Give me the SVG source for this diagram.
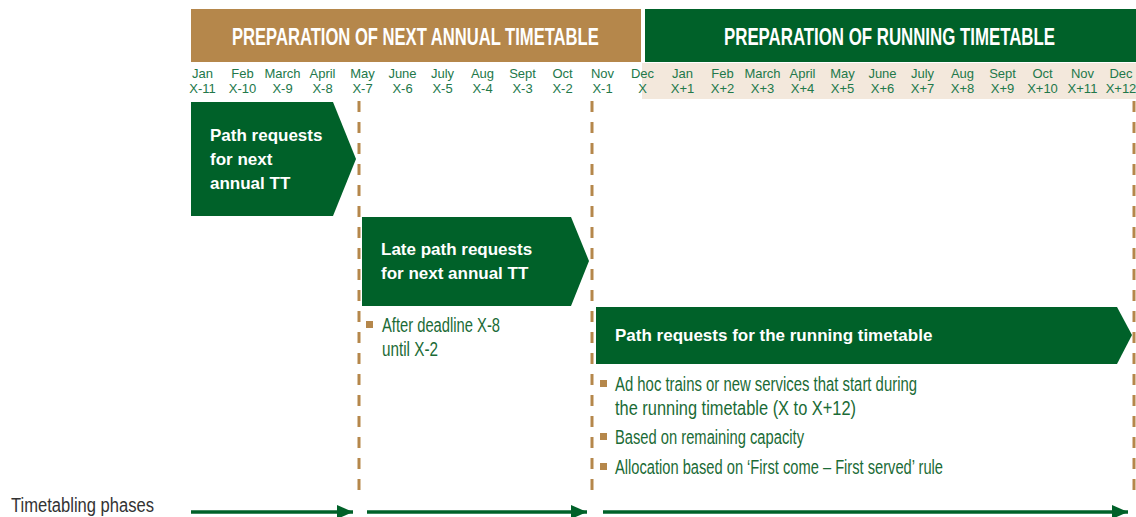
<svg xmlns="http://www.w3.org/2000/svg" width="1136" height="517" viewBox="0 0 1136 517">
<style>
.hdr{font-family:"Liberation Sans",sans-serif;font-weight:bold;font-size:24px;fill:#ffffff}
.mon{font-family:"Liberation Sans",sans-serif;font-size:13px;fill:#22784a;text-anchor:middle}
.box{fill:#006129}
.btxt{font-family:"Liberation Sans",sans-serif;font-weight:bold;font-size:17px;fill:#ffffff}
.bul{font-family:"Liberation Sans Narrow","Liberation Sans",sans-serif;font-size:20px;fill:#1b6b36}
.sq{fill:#b5874b}
.dash{stroke:#b5874b;stroke-width:3;stroke-dasharray:11 10;fill:none}
.phase{stroke:#006129;stroke-width:3.5;fill:none}
.lbl{font-family:"Liberation Sans Narrow","Liberation Sans",sans-serif;font-size:20px;fill:#333333}
</style>
<defs>
<marker id="ah" markerWidth="16" markerHeight="14" refX="16" refY="7" orient="auto" markerUnits="userSpaceOnUse">
<path d="M0,0 L16,7 L0,14 Z" fill="#006129"/>
</marker>
</defs>
<rect width="1136" height="517" fill="#ffffff"/>

<g id="header-annual">
<rect x="191" y="9" width="450" height="53" fill="#b5874b"/>
<text class="hdr" transform="translate(232,45) scale(0.683,1)" x="0" y="0" textLength="537" lengthAdjust="spacingAndGlyphs">PREPARATION OF NEXT ANNUAL TIMETABLE</text>
</g>
<g id="header-running">
<rect x="645" y="9" width="491" height="53" fill="#006129"/>
<text class="hdr" transform="translate(724,45) scale(0.694,1)" x="0" y="0" textLength="477" lengthAdjust="spacingAndGlyphs">PREPARATION OF RUNNING TIMETABLE</text>
</g>

<g id="months">
<rect x="642" y="63" width="494" height="36" fill="#f3e8dc"/>
<text class="mon" x="202.5" y="78">Jan</text><text class="mon" x="202.5" y="93">X-11</text>
<text class="mon" x="242.5" y="78">Feb</text><text class="mon" x="242.5" y="93">X-10</text>
<text class="mon" x="282.5" y="78">March</text><text class="mon" x="282.5" y="93">X-9</text>
<text class="mon" x="322.5" y="78">April</text><text class="mon" x="322.5" y="93">X-8</text>
<text class="mon" x="362.5" y="78">May</text><text class="mon" x="362.5" y="93">X-7</text>
<text class="mon" x="402.5" y="78">June</text><text class="mon" x="402.5" y="93">X-6</text>
<text class="mon" x="442.5" y="78">July</text><text class="mon" x="442.5" y="93">X-5</text>
<text class="mon" x="482.5" y="78">Aug</text><text class="mon" x="482.5" y="93">X-4</text>
<text class="mon" x="522.5" y="78">Sept</text><text class="mon" x="522.5" y="93">X-3</text>
<text class="mon" x="562.5" y="78">Oct</text><text class="mon" x="562.5" y="93">X-2</text>
<text class="mon" x="602.5" y="78">Nov</text><text class="mon" x="602.5" y="93">X-1</text>
<text class="mon" x="642.5" y="78">Dec</text><text class="mon" x="642.5" y="93">X</text>
<text class="mon" x="682.5" y="78">Jan</text><text class="mon" x="682.5" y="93">X+1</text>
<text class="mon" x="722.5" y="78">Feb</text><text class="mon" x="722.5" y="93">X+2</text>
<text class="mon" x="762.5" y="78">March</text><text class="mon" x="762.5" y="93">X+3</text>
<text class="mon" x="802.5" y="78">April</text><text class="mon" x="802.5" y="93">X+4</text>
<text class="mon" x="842.5" y="78">May</text><text class="mon" x="842.5" y="93">X+5</text>
<text class="mon" x="882.5" y="78">June</text><text class="mon" x="882.5" y="93">X+6</text>
<text class="mon" x="922.5" y="78">July</text><text class="mon" x="922.5" y="93">X+7</text>
<text class="mon" x="962.5" y="78">Aug</text><text class="mon" x="962.5" y="93">X+8</text>
<text class="mon" x="1002.5" y="78">Sept</text><text class="mon" x="1002.5" y="93">X+9</text>
<text class="mon" x="1042.5" y="78">Oct</text><text class="mon" x="1042.5" y="93">X+10</text>
<text class="mon" x="1082.5" y="78">Nov</text><text class="mon" x="1082.5" y="93">X+11</text>
<text class="mon" x="1121" y="78">Dec</text><text class="mon" x="1121" y="93">X+12</text>
</g>

<g id="deadlines">
<line class="dash" x1="359" y1="101" x2="359" y2="500"/>
<line class="dash" x1="592" y1="101" x2="592" y2="500"/>
<line class="dash" x1="1134" y1="101" x2="1134" y2="500"/>
</g>

<g id="node-path-requests">
<polygon class="box" points="191,102 333,102 356,159 333,216 191,216"/>
<text class="btxt" x="210" y="141">Path requests</text>
<text class="btxt" x="210" y="165">for next</text>
<text class="btxt" x="210" y="189">annual TT</text>
</g>

<g id="node-late-path-requests">
<polygon class="box" points="362,217 571,217 589,261 571,306 362,306"/>
<text class="btxt" x="381" y="255">Late path requests</text>
<text class="btxt" x="381" y="279">for next annual TT</text>
<rect class="sq" x="366" y="321" width="7" height="7"/>
<text class="bul" x="382" y="332" textLength="118" lengthAdjust="spacingAndGlyphs">After deadline X-8</text>
<text class="bul" x="382" y="356" textLength="56" lengthAdjust="spacingAndGlyphs">until X-2</text>
</g>

<g id="node-running-requests">
<polygon class="box" points="596,307 1117,307 1132,335 1117,364 596,364"/>
<text class="btxt" x="615" y="341">Path requests for the running timetable</text>
<rect class="sq" x="600" y="380" width="7" height="7"/>
<text class="bul" x="615" y="391" textLength="302" lengthAdjust="spacingAndGlyphs">Ad hoc trains or new services that start during</text>
<text class="bul" x="615" y="415" textLength="241" lengthAdjust="spacingAndGlyphs">the running timetable (X to X+12)</text>
<rect class="sq" x="600" y="433" width="7" height="7"/>
<text class="bul" x="615" y="444" textLength="189" lengthAdjust="spacingAndGlyphs">Based on remaining capacity</text>
<rect class="sq" x="600" y="463" width="7" height="7"/>
<text class="bul" x="615" y="474" textLength="328" lengthAdjust="spacingAndGlyphs">Allocation based on ‘First come – First served’ rule</text>
</g>

<g id="phases-label">
<text class="lbl" x="11" y="512" textLength="143" lengthAdjust="spacingAndGlyphs">Timetabling phases</text>
</g>

<g id="connectors">
<line class="phase" x1="191" y1="512" x2="353" y2="512" marker-end="url(#ah)"/>
<line class="phase" x1="367" y1="512" x2="587" y2="512" marker-end="url(#ah)"/>
<line class="phase" x1="603" y1="512" x2="1128" y2="512" marker-end="url(#ah)"/>
</g>
</svg>
